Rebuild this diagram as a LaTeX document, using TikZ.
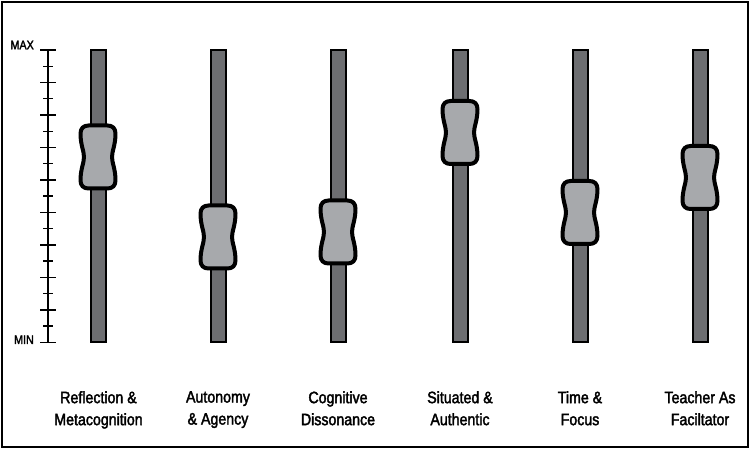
\documentclass[tikz,border=0pt]{standalone}
\usepackage{fontspec}
\setmainfont[FakeStretch=0.86,FakeBold=2.2]{Liberation Sans}
\definecolor{bargray}{HTML}{6D6E71}
\definecolor{knobgray}{HTML}{A7A9AC}
\begin{document}
\begin{tikzpicture}[x=1pt,y=-1pt,
  frame/.style={draw=black,line width=2pt},
  barstyle/.style={draw=black,line width=2pt,fill=bargray,rectangle,minimum width=15pt,minimum height=292pt,inner sep=0pt},
  knobstyle/.style={draw=black,line width=4pt,fill=knobgray,line join=round},
  axisline/.style={draw=black,line width=1.4pt},
  scalelabel/.style={font=\fontsize{12.5}{14}\selectfont,inner sep=0pt,anchor=base east},
  catlabel/.style={font=\fontsize{16.5}{22}\selectfont,align=center,inner sep=0pt,anchor=north},
  knob/.pic={
    \path[knobstyle] (-9.5,31.5) -- (9.5,31.5) .. controls (14.5,31.5) and (17.5,28.5) .. (17.5,23.5)
      .. controls (17.5,12) and (14,6) .. (14,0)
      .. controls (14,-6) and (17.5,-12) .. (17.5,-23.5)
      .. controls (17.5,-28.5) and (14.5,-31.5) .. (9.5,-31.5)
      -- (-9.5,-31.5) .. controls (-14.5,-31.5) and (-17.5,-28.5) .. (-17.5,-23.5)
      .. controls (-17.5,-12) and (-14,-6) .. (-14,0)
      .. controls (-14,6) and (-17.5,12) .. (-17.5,23.5)
      .. controls (-17.5,28.5) and (-14.5,31.5) .. (-9.5,31.5) -- cycle;
  }]
\useasboundingbox (0,0) rectangle (750,454);
\draw[frame] (2,2) rectangle (748,447);

% scale
\coordinate (axtop) at (48,50);
\coordinate (axbot) at (48,342.4);
\draw[axisline] (axtop) -- (axbot);
\foreach \i in {0,...,18}{
  \pgfmathsetmacro{\yy}{50+\i*16.244}
  \ifodd\i
    \draw[axisline] (43,\yy) -- (52.5,\yy);
  \else
    \draw[axisline] (40,\yy) -- (55.5,\yy);
  \fi
}
\node[scalelabel] (max) at (34,49.3) {MAX};
\node[scalelabel] (min) at (34,344) {MIN};

% bars
\foreach \x/\n in {98/1,218/2,338/3,460/4,580/5,700/6}{
  \node[barstyle] (bar\n) at (\x,196) {};
}

% knobs
\pic at (98,157) {knob};
\pic at (218,237) {knob};
\pic at (338,232) {knob};
\pic at (460,132.5) {knob};
\pic at (580,212.5) {knob};
\pic at (700,177.5) {knob};

% labels
\node[catlabel] (l1) at (98.5,391) {Reflection \&\\Metacognition};
\node[catlabel] (l2) at (218,391) {Autonomy\\\& Agency};
\node[catlabel] (l3) at (338,391) {Cognitive\\Dissonance};
\node[catlabel] (l4) at (460,391) {Situated \&\\Authentic};
\node[catlabel] (l5) at (580,391) {Time \&\\Focus};
\node[catlabel] (l6) at (700,391) {Teacher As\\Faciltator};
\end{tikzpicture}
\end{document}
